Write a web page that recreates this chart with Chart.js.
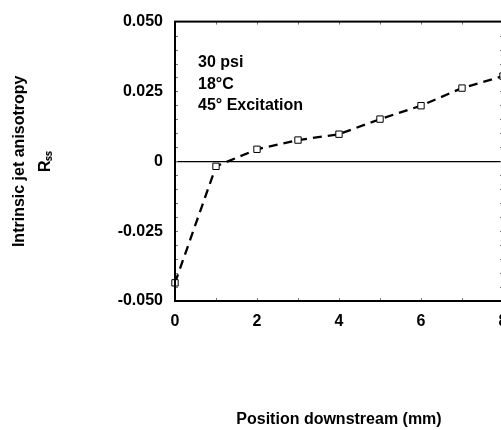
<!DOCTYPE html>
<html>
<head>
<meta charset="utf-8">
<script src="https://cdn.jsdelivr.net/npm/chart.js@4.4.1/dist/chart.umd.min.js"></script>
<style>
  html, body { margin: 0; padding: 0; background: #fff; overflow: hidden; width: 501px; height: 430px; }
  #wrap { position: relative; width: 520px; height: 430px; }
</style>
</head>
<body>
<div id="wrap"><canvas id="c"></canvas></div>
<script>
// ---- data ----
const positions = [0, 1, 2, 3, 4, 5, 6, 7, 8];
const anisotropy = [-0.0435, -0.0018, 0.0043, 0.0076, 0.0097, 0.0151, 0.0199, 0.0262, 0.0305];
const yTicks = [-0.05, -0.025, 0, 0.025, 0.05];
const xTickLabels = ["0", "2", "4", "6", "8"];
const notes = ["30 psi", "18°C", "45° Excitation"];
const xTitle = "Position downstream (mm)";
const yTitle = ["Intrinsic jet anisotropy", "R\u209B\u209B"];

const FONT = '"Liberation Sans", Arial, sans-serif';

const framePlugin = {
  id: 'frame',
  afterDraw(chart) {
    const { ctx, chartArea: a, scales: { x, y } } = chart;
    ctx.save();
    // minor inward ticks
    ctx.strokeStyle = '#777';
    ctx.lineWidth = 1;
    ctx.beginPath();
    for (let i = 1; i < 20; i++) {
      const v = -0.05 + i * 0.005;
      const py = Math.round(y.getPixelForValue(v)) + 0.5;
      ctx.moveTo(a.left, py); ctx.lineTo(a.left + 3, py);
      ctx.moveTo(a.right, py); ctx.lineTo(a.right - 3, py);
    }
    for (let i = 1; i < 8; i++) {
      const px = Math.round(x.getPixelForValue(i)) + 0.5;
      ctx.moveTo(px, a.top); ctx.lineTo(px, a.top + 3);
      ctx.moveTo(px, a.bottom); ctx.lineTo(px, a.bottom - 3);
    }
    ctx.stroke();
    // frame
    ctx.strokeStyle = '#000';
    ctx.lineWidth = 2;
    ctx.strokeRect(a.left, a.top, a.right - a.left, a.bottom - a.top);
    // annotation text
    ctx.fillStyle = '#000';
    ctx.font = 'bold 16px ' + FONT;
    ctx.textAlign = 'left';
    ctx.textBaseline = 'alphabetic';
    const tx = x.getPixelForValue(0) + 23;
    notes.forEach((t, i) => ctx.fillText(t, tx, 67 + i * 21.7));
    ctx.restore();
  }
};

new Chart(document.getElementById('c'), {
  type: 'line',
  data: {
    datasets: [{
      data: positions.map((p, i) => ({ x: p, y: anisotropy[i] })),
      borderColor: '#000',
      borderWidth: 2.3,
      borderDash: [9, 6],
      tension: 0,
      fill: false,
      pointStyle: 'rect',
      pointRadius: 4.5,
      pointBorderWidth: 1,
      pointBorderColor: '#000',
      pointBackgroundColor: '#fff',
      clip: false
    }]
  },
  options: {
    responsive: true,
    maintainAspectRatio: false,
    devicePixelRatio: 1,
    animation: false,
    layout: { padding: { left: 0, top: 16, right: 17, bottom: 0 } },
    plugins: { legend: { display: false }, tooltip: { enabled: false } },
    scales: {
      x: {
        type: 'linear',
        min: 0, max: 8,
        afterFit(s) { s.height = 129; },
        afterBuildTicks(s) { s.ticks = xTickLabels.map(v => ({ value: Number(v) })); },
        ticks: {
          padding: 11,
          color: '#000',
          font: { family: FONT, size: 16, weight: 'bold' },
          callback: (v) => String(v)
        },
        grid: { display: false, drawTicks: false },
        border: { display: false },
        title: {
          display: true,
          text: xTitle,
          color: '#000',
          font: { family: FONT, size: 16, weight: 'bold' },
          padding: { top: 0, bottom: 1 }
        }
      },
      y: {
        type: 'linear',
        min: -0.05, max: 0.05,
        afterFit(s) { s.width = 175; },
        afterBuildTicks(s) { s.ticks = yTicks.map(v => ({ value: v })); },
        ticks: {
          padding: 12,
          color: '#000',
          font: { family: FONT, size: 16, weight: 'bold' },
          callback: (v) => Math.abs(v) < 1e-9 ? '0' : v.toFixed(3)
        },
        grid: {
          drawTicks: false,
          color: (c) => (c.tick && Math.abs(c.tick.value) < 1e-9) ? '#000' : 'rgba(0,0,0,0)',
          lineWidth: 1.2
        },
        border: { display: false },
        title: {
          display: true,
          text: yTitle,
          color: '#000',
          font: { family: FONT, size: 16, weight: 'bold', lineHeight: 1.6 },
          padding: { top: 7, bottom: 0 }
        }
      }
    }
  },
  plugins: [framePlugin]
});
</script>
</body>
</html>
